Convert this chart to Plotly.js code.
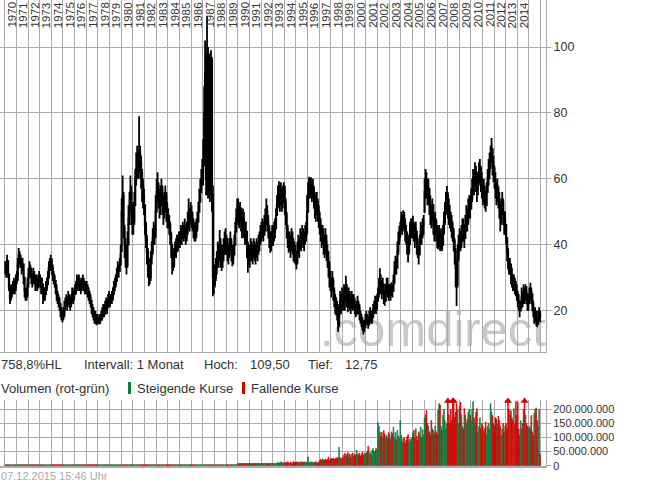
<!DOCTYPE html>
<html><head><meta charset="utf-8">
<script src="https://cdn.plot.ly/plotly-3.0.1.min.js"></script>
<style>html,body{margin:0;padding:0;background:#fff}#c{width:645px;height:483px}</style>
</head><body><div id="c"></div>
<script>
const startYear = 1970;
const yearLabels = [1970,1971,1972,1973,1974,1975,1976,1977,1978,1979,1980,1981,1982,1983,1984,1985,1986,1987,1988,1989,1990,1991,1992,1993,1994,1995,1996,1997,1998,1999,2000,2001,2002,2003,2004,2005,2006,2007,2008,2009,2010,2011,2012,2013,2014];

// monthly highs, one row per year 1970..2015
const high = [
35,34,37,35,31,28,27,28,29,30,29,31,
32,36,39,38,37,36,36,34,30,27,27,30,
33,35,34,33,31,33,32,31,31,30,31,32,
31,30,30,28,27,27,29,30,32,35,36,37,
36,34,32,31,29,28,26,25,24,22,21,20,
21,23,24,25,24,26,25,24,25,27,26,27,
28,29,31,30,31,30,29,30,31,30,29,29,
29,28,27,26,25,23,22,21,20,20,19,19,
18,19,19,20,21,22,22,23,24,23,25,26,
25,25,26,27,29,30,31,33,35,34,36,40,
54,61,56,46,42,40,44,52,56,61,58,52,
53,56,63,68,70,68,79,70,67,63,60,57,
52,47,43,39,36,34,38,41,45,47,46,55,
60,62,59,57,58,60,58,55,56,58,56,53,
51,49,47,44,40,38,39,41,42,43,43,44,
44,46,45,47,46,48,46,47,50,54,51,53,
52,50,48,46,47,48,50,53,57,60,63,66,
72,88,102,98,109.5,100,98,97,99,97,58,33,
34,36,38,41,40,44.5,42,40,40,42,44,45,
43,42,40,42,44,42,40,40,43,47,51,54,
54,52,53,51,48,51,50,47,47,44,41,40,
40,42,41,40,42,41,40,42,41,43,44,46,
47,48,47,49,51,54,52,49,46,44,44,46,
46,47,48,51,55,58,59.3,58,59,57,58,59,
58,54,50,46,44,44,43,45,44,42,41,40,
38,41,43,42,45,44,46,45,44,46,47,55,
59,60.6,60,60.5,59,60,58,56,54,56,54,52,
50,48,46,46,45,43,45,43,40,38,35,32,
30,32,30,27,25,24,23,21,22,26,25,27,
25,28,27,30.6,28,25,27,26,24,26,25,25,
24,22,23,24.5,23,22,20,19,18,17,17,19,
20,19,18,20,21,20,20,22,23,24.5,23,25,
27,30,32.9,31,29,30,28,26,28,30,30,28,
28,28,28.6,28,31,35,36.7,36,41,44,45.8,47,
50,49,50.5,50,48,46,44,42,43,47,48,48,
48.8,47,45,47,44,42,40,43,47,46,48,49,
60,63,62,60,60,57,55,52,54,52,49,50,
48,46,45,46,44,45,42,46,50,53,56,57.8,
56,54,52,50,49,47,45,42,39,35,40,43,
45,44,46,48,48,46,49,52,51,54,55,55,
57,60,63,62,65,64,61,62,65,66,64,62,
58,60,58,56,59,63,66,68,70,72.4,69,67,
64,62,59,60,58,56,53,54,56,54,50,50,
46,42,39,36,36,34,33,31,31,30,29,28,
26,25,23,23,27,26,28,27,28,27.5,25,25,
27,28.5,27,25,23,21,21,20,18,20,21,20
];

// monthly lows
const low = [
31,30,31,30,26,22,23,24,25,26,25,26,
28,29,33,34,33,31,32,28,24,23,23,24,
27,30,30,28,27,28,28,26,27,26,27,28,
27,25,26,22,23,23,25,26,28,30,32,32,
31,29,28,27,25,23,22,21,20,18,17,16.4,
17,18,20,21,20,22,21,20,21,23,22,23,
25,25,27,26,27,26,25,26,27,26,25,25,
25,24,23,22,21,19,18,17,16,16,15.6,16,
16,15.8,16,17,17,18,18,19,20,19,21,22,
21,22,22,23,25,26,27,29,31,30,32,34,
38,48,42,36,33,31,33,40,46,50,46,43,
43,46,52,58,60,60,62,60,57,53,51,49,
43,39,34,30,27.4,28,29,34,37,40,40,42,
50,53,51,48,49,52,49,46,48,50,47,45,
45,43,40,36,31,32,33,36,36,38,38,39,
39,40,40,42,41,42,40,41,43,45,44,46,
45,44,42,41,41,42,44,47,50,53,56,58,
58,64,78,55,55,54,56,53,55,50,24.4,25,
27,29,31,34,33,35,33,32,33,35,37,37,
37,35,34,36,38,35,33.5,34,37,40,44,47,
46,45,47,44,42,44,42,40,41,36,31.5,34,
33,35,35,34,36,35,34,36,35,37,38,40,
41,42,41,43,44,46,44,42,39,37.6,38,40,
39.6,41,42,45,49,51,53,50,52,50,51,53,
49,46,42,39,37.6,38,36,38,37,35,34.5,34,
32.5,34,37,36,39,38,40,39,38,40,41,43,
50,54,54,55,53,54,51,48,47,49,47,45,
43,41,39,40,37,36,37,35,33,30,27,26,
24,26,23,21,19,18.5,17,13.6,15,19,19,21,
20,21,20,23,21,19.5,21,20,19,21,20,20.5,
19,18,18.5,19,19,17,16,15,14,12.75,13.5,15,
16,15.5,14.5,15.5,17,16,16,18,19,20,19,20,
23,24,26,25,23.5,25,22,21.5,23,25,24,23,
24,23,24.5,24,26,28,31,31,33,37,40,42,
44,43,45,44,41,40,37,34.6,37,40,42,42,
42,41,39,41,37,36,34,37,40,40,42,43,
50,54,54,52,52,49,46,45,47,43,41,43,
41,39,38.6,40,38.1,39,38,40,43,46,49,52,
48,46,45,44,42,41,38,34,27,21.4,27,35,
38.6,38,39,41,41,39,42,44,44,46,48,48,
51,53,56,55,58,56,53,55,58,59,56,54,
52,53,51,50,52,56,58,60,63,65,61,59,
57,54,52,53,51,48,44,46,49,46,43,43,
40,35,32.5,31,31,28,27,26,26,25,24.4,23,
21,20,18,19.9,21,21,22,22,23,22,20,20,
22,23,22,20,18,16,17,15.4,15,16,17,16.5
];

// monthly closes
const close = [
33,32,35,31,27,24,25,26,27,28,27,29,
30,34,37,36,35,33,34,30,26,24,25,28,
31,33,32,30,29,31,30,28,29,27,29,30,
29,27,28,26,24,25,27,28,30,33,34,35,
33,31,30,29,27,25,24,23,22,20,19,18,
19,21,22,23,22,24,23,22,23,25,24,25,
26,27,29,28,29,28,27,28,29,28,27,27,
27,26,25,24,23,21,20,19,18,18,17,17,
17,17,18,18,19,20,19,21,22,21,23,24,
23,24,24,25,27,28,29,31,33,32,34,37,
50,55,45,40,38,34,40,48,52,56,50,47,
47,52,60,63,66,64,68,65,62,58,55,53,
46,42,38,35,32,30,36,38,42,44,43,50,
56,58,55,52,54,57,53,50,52,55,51,49,
47,46,43,40,36,34,37,39,38,41,40,42,
41,43,42,44,43,45,42,44,46,48,47,50,
48,47,45,43,44,45,47,50,53,56,60,62,
66,80,92,60,95,58,90,62,96,55,30,28,
30,33,35,38,36,40,38,36,37,39,41,42,
40,38,37,39,41,38,36,37,40,44,48,51,
50,48,51,47,45,48,46,43,44,40,36,38,
36,39,38,37,40,38,37,39,38,40,41,44,
44,45,43,46,48,50,47,45,42,40,41,43,
42,44,45,48,52,55,57,54,56,53,55,57,
53,49,45,42,40,41,39,42,40,38,37,36,
35,38,40,39,42,41,43,42,41,43,44,50,
55,58,57,59,56,57,55,52,50,53,51,48,
46,44,42,43,40,39,41,38,36,34,30,28,
27,29,26,24,22,21,20,16,19,23,22,24,
22,25,23,27,24,22,25,23,21,24,22,23,
21,19,20,22,21,19,18,17,16,14,15,17,
18,17,16,18,19,17,18,20,21,22,21,23,
25,27,29,28,26,28,25,23,26,28,27,25,
26,25,27,26,29,32,34,33,38,41,43,45,
48,46,49,47,44,43,40,38,41,44,46,45,
46,44,42,45,40,38,37,41,44,43,46,47,
56,60,58,55,57,53,50,48,52,46,45,47,
44,42,41,43,40,42,39,44,47,50,52,55,
52,50,48,47,45,44,41,38,33,28,36,40,
42,40,43,45,44,42,46,48,47,50,52,51,
54,57,60,58,62,60,57,59,62,63,60,58,
55,57,54,52,56,60,62,64,67,70,65,63,
60,58,55,57,54,52,48,50,53,50,46,47,
42,38,35,33,34,31,30,28,29,27,26,25,
23,22,20,21,24,23,25,24,26,25,22,23,
24,26,25,22,20,18,19,17,16,18,19,18
];

// monthly volume in millions
const volume = [
3.5,3.5,3.5,3.5,3.5,3.5,3.5,3.5,3.5,3.5,3.5,3.5,
3.5,3.5,3.5,3.5,3.5,3.5,3.5,3.5,3.5,3.5,3.5,3.5,
3.5,3.5,3.5,3.5,3.5,3.5,3.5,3.5,3.5,3.5,3.5,3.5,
3.5,3.5,3.5,3.5,3.5,3.5,3.5,3.5,3.5,3.5,3.5,3.5,
3.5,3.5,3.5,3.5,3.5,3.5,3.5,3.5,3.5,3.5,3.5,3.5,
3.5,3.5,3.5,3.5,3.5,3.5,3.5,3.5,3.5,3.5,3.5,3.5,
3.5,3.5,3.5,3.5,3.5,3.5,3.5,3.5,3.5,3.5,3.5,3.5,
3.5,3.5,3.5,3.5,3.5,3.5,3.5,3.5,3.5,3.5,3.5,3.5,
3.5,3.5,3.5,3.5,3.5,3.5,3.5,3.5,3.5,3.5,3.5,3.5,
3.5,3.5,3.5,3.5,3.5,3.5,3.5,3.5,3.5,3.5,3.5,3.5,
3.5,3.5,3.5,3.5,3.5,3.5,3.5,3.5,3.5,3.5,3.5,3.5,
3.5,3.5,3.5,3.5,3.5,3.5,3.5,3.5,3.5,3.5,3.5,3.5,
3.5,3.5,3.5,3.5,3.5,3.5,3.5,3.5,3.5,3.5,3.5,3.5,
3.5,3.5,3.5,3.5,3.5,3.5,3.5,3.5,3.5,3.5,3.5,3.5,
3.5,3.5,3.5,3.5,3.5,3.5,3.5,3.5,3.5,3.5,3.5,3.5,
3.5,3.5,3.5,3.5,3.5,3.5,3.5,3.5,3.5,3.5,3.5,3.5,
3.5,3.5,3.5,3.5,3.5,3.5,3.5,3.5,3.5,3.5,3.5,3.5,
3.5,3.5,3.5,3.5,3.5,3.5,3.5,3.5,3.5,3.5,3.5,3.5,
3.5,3.5,3.5,3.5,3.5,3.5,3.5,3.5,3.5,3.5,3.5,3.5,
3.5,3.5,3.5,3.5,3.5,3.5,3.5,3.5,3.5,3.5,3.5,3.5,
8,8,8,8,8,8,8,8,8,8,8,8,
8,8,8,8,8,8,8,8,8,8,8,8,
8,8,8,8,8,8,8,8,8,8,8,8,
8,8,8,9,8,12,10,9,14,10,12,9,
10,12,9,14,11,8,13,10,9,15,11,12,
12,14,10,13,9,15,11,12,14,10,13,12,
31,12,10,14,11,13,9,12,15,11,10,13,
18,22,20,24,19,21,23,20,22,31,19,24,
26,24,27,22,25,28,26,30,65,28,27,25,
30,38,44,33,40,47,36,42,30,39,45,35,
40,36,55,42,38,45,33,41,48,37,44,39,
45,50,69,42,48,38,55,61,52,50,61,58,
153,140,120,105,118,96,125,112,100,108,96,118,
110,95,120,113,137,100,118,92,125,105,98,160,
108,85,95,100,79,90,102,110,83,95,88,100,
115,125,98,131,105,90,120,112,137,100,128,110,
169,180,196,150,140,120,110,160,131,125,115,140,
120,110,196,220,215,140,125,180,200,160,130,150,
240,180,150,200,160,240,240,170,190,220,200,150,
210,225,180,140,131,202,180,150,165,190,200,178,
160,200,228,170,150,190,202,120,140,170,131,150,
140,120,131,155,110,140,150,130,220,190,178,150,
140,170,165,150,175,160,140,108,130,150,120,140,
150,131,240,200,180,195,170,160,202,150,228,180,
225,130,108,160,131,150,200,240,180,150,140,130,
140,131,178,120,108,185,200,205,160,140,200,40
];

// ---- build traces ----
const n = close.length;
const dates = [];
for (let i = 0; i < n; i++) {
  const y = startYear + Math.floor(i / 12), m = (i % 12) + 1;
  dates.push(y + '-' + String(m).padStart(2, '0') + '-15');
}
const open = close.map((c, i) => {
  const p = i === 0 ? close[0] : close[i - 1];
  return Math.min(high[i], Math.max(low[i], p));
});
const GREEN = '#0b7a3b', RED = '#d40000';
const volColors = close.map((c, i) => c >= open[i] ? GREEN : RED);
const volAbs = volume.map(v => v * 1e6);
const VMAX = 233e6;
// bars exceeding the panel get a small arrow at the top edge
const clipX = [], clipC = [];
volAbs.forEach((v, i) => { if (v > VMAX) { clipX.push(dates[i]); clipC.push(volColors[i]); } });

const W = 645, H = 483;
const px = v => v / W, py = v => 1 - v / H;
const GRID = '#aaaaaa';
const FONT = 'Arial, "Liberation Sans", sans-serif';
const xRange = ['1969-08-06', '2016-06-18'];

const traces = [
  {type: 'candlestick', x: dates, open: open, high: high, low: low, close: close,
   xaxis: 'x', yaxis: 'y', hoverinfo: 'skip', whiskerwidth: 0,
   increasing: {line: {color: '#000', width: 1.8}, fillcolor: '#fff'},
   decreasing: {line: {color: '#000', width: 1.8}, fillcolor: '#000'}},
  {type: 'bar', x: dates, y: volAbs, xaxis: 'x2', yaxis: 'y2',
   marker: {color: volColors, line: {width: 0.6, color: volColors}}, hoverinfo: 'skip'},
  {type: 'scatter', mode: 'markers', x: clipX, y: clipX.map(() => VMAX * 0.985), xaxis: 'x2', yaxis: 'y2',
   marker: {symbol: 'triangle-up', size: 7, color: clipC}, hoverinfo: 'skip', cliponaxis: false}
];

const annotations = [];
yearLabels.forEach(y => {
  annotations.push({x: y + '-07-02', xref: 'x', yref: 'paper', y: 1, yanchor: 'top', xanchor: 'center',
    text: String(y), textangle: -90, showarrow: false, borderpad: 0, xshift: 1, yshift: -1,
    font: {family: FONT, size: 11.5, color: '#333'}});
});
function txt(t, x, y, size, color) {
  annotations.push({text: t, xref: 'paper', yref: 'paper', x: px(x), y: py(y), xanchor: 'left', yanchor: 'middle',
    showarrow: false, borderpad: 0, font: {family: FONT, size: size, color: color}});
}
txt('758,8%HL', 0, 364, 13, '#333');
txt('Intervall: 1 Monat', 83, 364, 13, '#333');
txt('Hoch:', 203, 364, 13, '#333');
txt('109,50', 249, 364, 13, '#333');
txt('Tief:', 307, 364, 13, '#333');
txt('12,75', 344, 364, 13, '#333');
txt('Volumen (rot-grün)', 0, 388, 13, '#333');
txt('Steigende Kurse', 136, 388, 13, '#333');
txt('Fallende Kurse', 250, 388, 13, '#333');
txt('07.12.2015 15:46 Uhr', 0, 476, 11, '#aaaaaa');

const shapes = [
  {type: 'rect', xref: 'paper', yref: 'paper', x0: px(128), x1: px(131), y0: py(394), y1: py(382), fillcolor: GREEN, line: {width: 0}},
  {type: 'rect', xref: 'paper', yref: 'paper', x0: px(242), x1: px(245), y0: py(394), y1: py(382), fillcolor: RED, line: {width: 0}},
  {type: 'rect', xref: 'paper', yref: 'paper', x0: px(320), x1: px(546), y0: py(357), y1: py(291), layer: 'below',
   fillcolor: 'rgba(0,0,0,0)', line: {width: 0},
   label: {text: '.comdirect', textposition: 'middle center', padding: 0, font: {family: FONT, size: 49, color: '#c8c8c8'}}}
];

const axisX = {type: 'date', range: xRange, domain: [0, px(546)], showgrid: true, gridcolor: GRID, gridwidth: 1,
  dtick: 'M12', tick0: '1970-01-01', showticklabels: false, ticks: '', showline: true, linecolor: GRID,
  zeroline: false, fixedrange: true};

const layout = {
  width: W, height: H, margin: {l: 0, r: 0, t: 0, b: 0}, paper_bgcolor: '#fff', plot_bgcolor: '#fff',
  showlegend: false, bargap: 0.05, font: {family: FONT},
  xaxis: Object.assign({}, axisX, {anchor: 'y', rangeslider: {visible: false}}),
  xaxis2: Object.assign({}, axisX, {anchor: 'y2', linewidth: 2}),
  yaxis: {domain: [py(351.7), 1], range: [7.55, 114.26], side: 'right', anchor: 'x',
    tickvals: [20, 40, 60, 80, 100], showgrid: true, gridcolor: GRID, zeroline: false,
    showline: true, linecolor: GRID, ticks: 'outside', ticklen: 4, tickcolor: GRID,
    tickfont: {family: FONT, size: 12.5, color: '#333'}, fixedrange: true},
  yaxis2: {domain: [py(465.7), py(400)], range: [0, VMAX], side: 'right', anchor: 'x2',
    tickvals: [0, 50e6, 100e6, 150e6, 200e6], ticktext: ['0', '50.000.000', '100.000.000', '150.000.000', '200.000.000'],
    showgrid: true, gridcolor: GRID, zeroline: false, showline: true, linecolor: GRID,
    ticks: 'outside', ticklen: 4, tickcolor: GRID, tickfont: {family: FONT, size: 11, color: '#333'}, fixedrange: true},
  annotations: annotations, shapes: shapes
};

Plotly.newPlot('c', traces, layout, {displayModeBar: false, staticPlot: true});
</script>
</body></html>
